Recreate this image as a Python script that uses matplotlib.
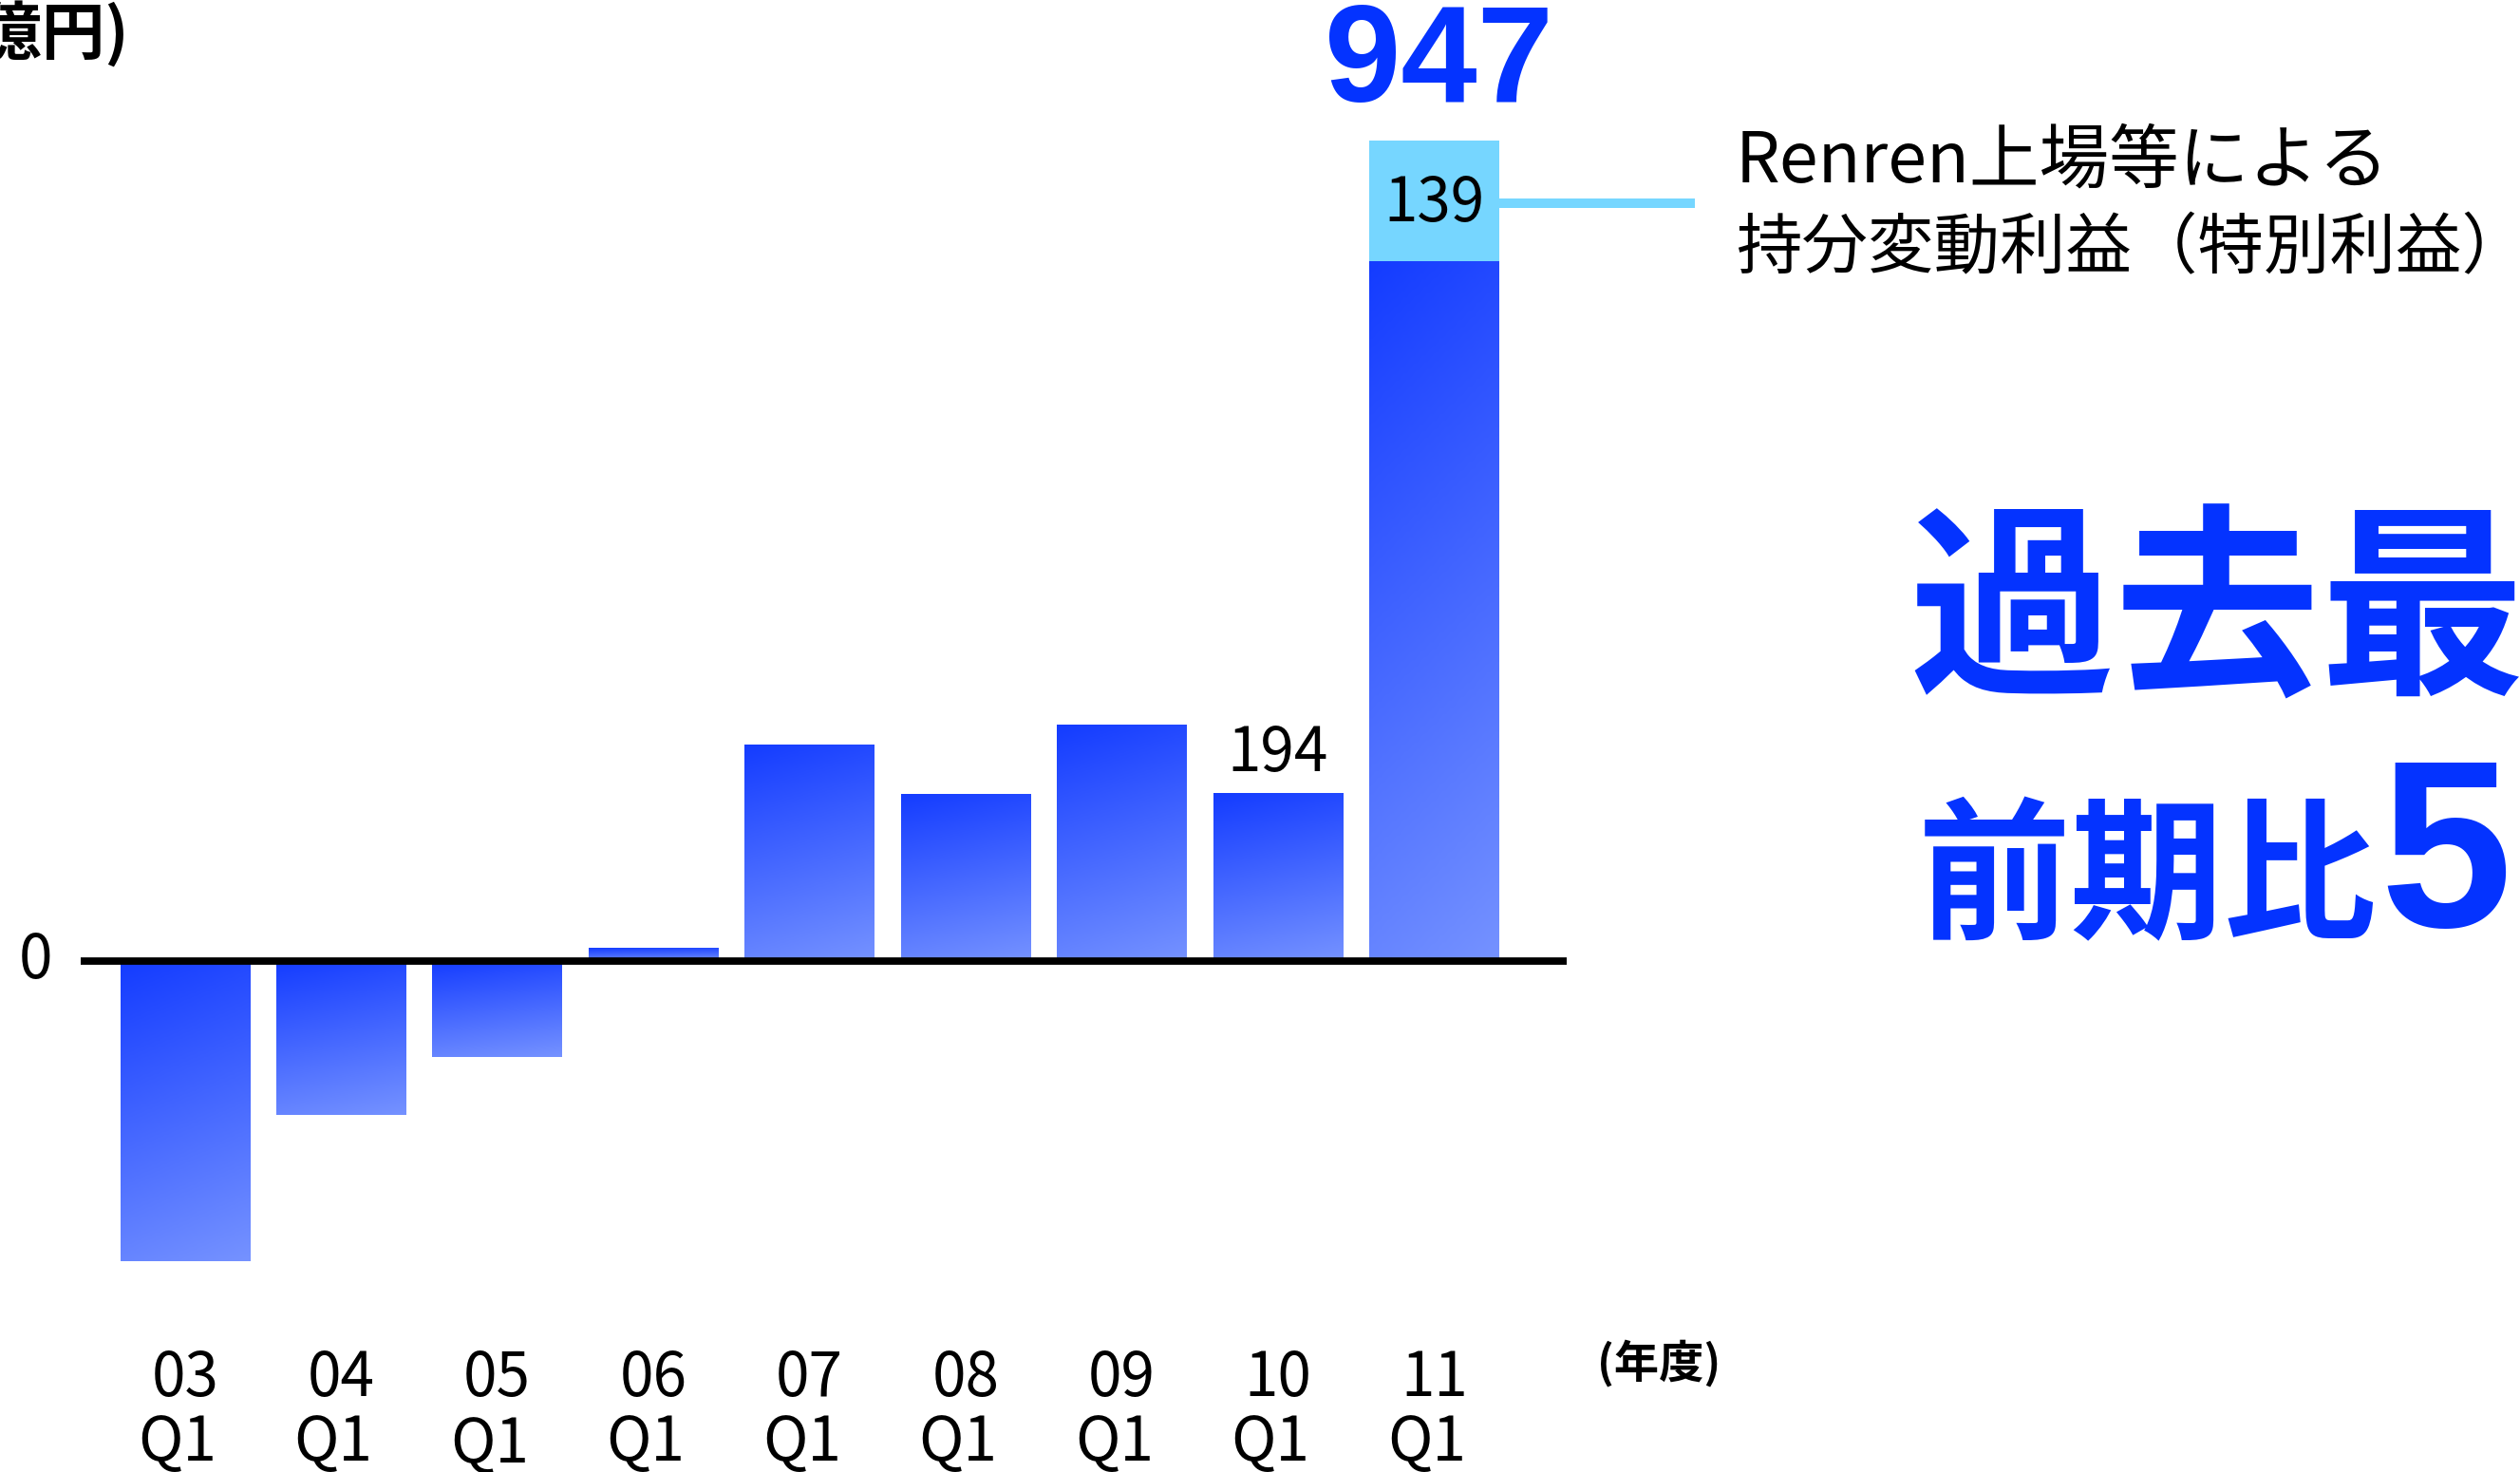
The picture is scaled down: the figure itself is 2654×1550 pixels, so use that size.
# -*- coding: UTF-8 -*-
import numpy as np
import matplotlib
matplotlib.use('Agg')
import matplotlib.pyplot as plt
from matplotlib.colors import LinearSegmentedColormap

plt.rcParams['font.family'] = ['Noto Sans CJK JP', 'DejaVu Sans']

# data (億円)
years = ['03', '04', '05', '06', '07', '08', '09', '10', '11']
quarter = 'Q1'
base_profit = [-347, -178, -111, 15, 250, 193, 273, 194, 808]
special_gain = 139          # Renren上場等による持分変動利益
total_last = 947
label_10 = 194

BLUE = '#0433FF'
LIGHT = '#76D6FF'
grad = LinearSegmentedColormap.from_list('g', ['#143CFF', '#7592FF'])

fig = plt.figure(figsize=(13.27, 7.75), dpi=200)
ax = fig.add_axes([50 / 1568, 0, 925 / 1568, 1])
ax.axis('off')

x = np.arange(len(years))
bars = ax.bar(x, base_profit, width=0.83, color='none', edgecolor='none')

# gradient fill per bar (dark top -> light bottom, slightly diagonal)
rows, cols = np.mgrid[0:1:200j, 0:1:50j]
g = rows * 0.85 + cols * 0.15
for b in bars:
    x0, y0 = b.get_x(), b.get_y()
    w, h = b.get_width(), b.get_height()
    lo, hi = min(y0, y0 + h), max(y0, y0 + h)
    im = ax.imshow(g, cmap=grad, extent=(x0, x0 + w, lo, hi), origin='upper',
                   aspect='auto', interpolation='bilinear', zorder=2)
    im.set_clip_path(b)

top = ax.bar(x[-1], special_gain, bottom=base_profit[-1], width=0.83,
             color=LIGHT, zorder=3)

ax.axhline(0, color='black', lw=2.8, zorder=4)

ax.set_xlim(-0.67, 8.85)
ax.set_ylim(-590, 1109.5)

# value labels
ax.text(x[-1] + 0.03, total_last + 86, str(total_last), ha='center', va='center',
        fontsize=52, fontweight='bold', color=BLUE, family=['Liberation Sans', 'DejaVu Sans'])
ax.text(x[-1], base_profit[-1] + special_gain / 2 - 4, str(special_gain), ha='center',
        va='center', fontsize=23, color='black', zorder=5)
ax.text(x[7], label_10 + 45, str(label_10), ha='center', va='center', fontsize=23)

# connector to note
seg_y = base_profit[-1] + special_gain / 2 - 3
ax.plot([x[-1] + 0.415, 9.67], [seg_y, seg_y], color=LIGHT, lw=3.6,
        solid_capstyle='butt', clip_on=False)

# x labels
for xi, yr in zip(x, years):
    ax.text(xi, -482, yr, ha='center', va='center', fontsize=23)
    ax.text(xi - 0.05, -557 - (2 if yr == '05' else 0), quarter, ha='center',
            va='center', fontsize=23)
ax.text(9.44, -464, '(年度)', ha='center', va='center', fontsize=17, fontweight='bold')

ax.text(-0.957, 0, '0', ha='center', va='center', fontsize=23)
ax.text(-0.36, 1070, '(億円)', ha='right', va='center', fontsize=24, fontweight='bold')

# note
fig.text(1080 / 1568, 1 - 101 / 916, 'Renren上場等による', ha='left', va='center',
         fontsize=26.5)
fig.text(1080 / 1568, 1 - 155 / 916, '持分変動利益（特別利益）', ha='left', va='center',
         fontsize=25)

# headline
fig.text(1188 / 1568, 1 - 385 / 916, '過去最', ha='left', va='center',
         fontsize=78, fontweight='bold', color=BLUE)
fig.text(1193 / 1568, 1 - 577 / 916, '前期比', ha='left', va='baseline',
         fontsize=58, fontweight='bold', color=BLUE)
fig.text(1481 / 1568, 1 - 577 / 916, '5', ha='left', va='baseline',
         fontsize=90, fontweight='bold', color=BLUE, family=['Liberation Sans', 'DejaVu Sans'])

fig.savefig('out.png', dpi=200)
